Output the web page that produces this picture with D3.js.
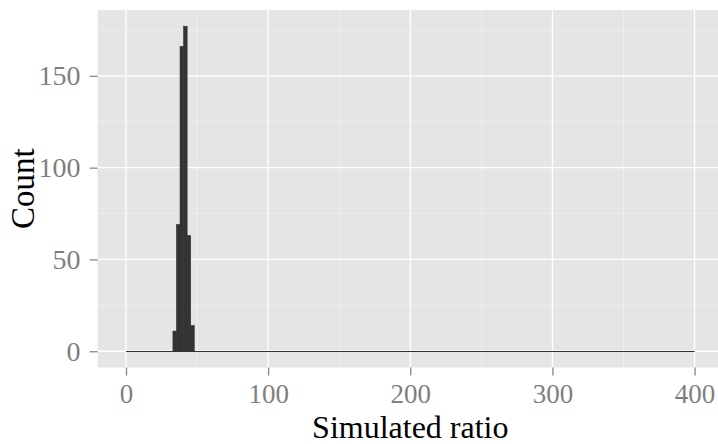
<!DOCTYPE html>
<html lang="en">
<head>
<meta charset="UTF-8">
<script src="https://d3js.org/d3.v7.min.js"></script>
<style>
  body { margin: 0; background: #fff; }
  #plot svg { display: block; }
</style>
</head>
<body>
<div id="plot"></div>
<script>
// histogram bins (edges) and counts
const binEdges = [33, 35.5, 38, 40.5, 43, 45.5, 48];
const counts = [11, 69, 166, 177, 63, 14];
// full range of the simulated values (empty bins drawn as a flat line)
const dataRange = [0, 400];
const xTicks = [0, 100, 200, 300, 400];
const xMinor = [50, 150, 250, 350];
const yTicks = [0, 50, 100, 150];
const yMinor = [25, 75, 125, 175];

function drawHist() {
  const width = 718, height = 444;
  const panel = {left: 97.6, top: 10, right: 723, bottom: 367.5};
  const font = '"Liberation Serif", "DejaVu Serif", serif';

  const x = d3.scaleLinear().domain([-20, 420]).range([panel.left, panel.right]);
  const y = d3.scaleLinear().domain([-8.85, 185.85]).range([panel.bottom, panel.top]);

  const svg = d3.select('#plot').append('svg')
      .attr('width', width)
      .attr('height', height);

  // panel background
  svg.append('rect')
      .attr('x', panel.left)
      .attr('y', panel.top)
      .attr('width', panel.right - panel.left)
      .attr('height', panel.bottom - panel.top)
      .attr('fill', '#e5e5e5');

  const grid = svg.append('g');
  // minor grid
  grid.selectAll('.xminor').data(xMinor).join('line')
      .attr('x1', d => x(d)).attr('x2', d => x(d))
      .attr('y1', panel.top).attr('y2', panel.bottom)
      .attr('stroke', '#f2f2f2').attr('stroke-width', 0.7);
  grid.selectAll('.yminor').data(yMinor).join('line')
      .attr('y1', d => y(d)).attr('y2', d => y(d))
      .attr('x1', panel.left).attr('x2', panel.right)
      .attr('stroke', '#f2f2f2').attr('stroke-width', 0.7);
  // major grid
  grid.selectAll('.xmajor').data(xTicks).join('line')
      .attr('x1', d => x(d)).attr('x2', d => x(d))
      .attr('y1', panel.top).attr('y2', panel.bottom)
      .attr('stroke', '#fff').attr('stroke-width', 1.3);
  grid.selectAll('.ymajor').data(yTicks).join('line')
      .attr('y1', d => y(d)).attr('y2', d => y(d))
      .attr('x1', panel.left).attr('x2', panel.right)
      .attr('stroke', '#fff').attr('stroke-width', 1.3);

  // empty bins along the whole range
  svg.append('line')
      .attr('x1', x(dataRange[0])).attr('x2', x(dataRange[1]))
      .attr('y1', Math.round(y(0)) + 0.5).attr('y2', Math.round(y(0)) + 0.5)
      .attr('stroke', '#333').attr('stroke-width', 1);

  // bars
  svg.append('g').selectAll('rect')
    .data(counts)
    .join('rect')
      .attr('x', (d, i) => x(binEdges[i]))
      .attr('width', (d, i) => x(binEdges[i + 1]) - x(binEdges[i]))
      .attr('y', d => y(d))
      .attr('height', d => y(0) - y(d))
      .attr('fill', '#333333')
      .attr('stroke', '#333333')
      .attr('stroke-width', 0.6);

  // x axis
  const xAxis = svg.append('g')
      .attr('transform', `translate(0, ${panel.bottom})`)
      .call(d3.axisBottom(x).tickValues(xTicks).tickSize(8).tickPadding(8).tickFormat(d3.format('d')));
  xAxis.select('.domain').remove();
  xAxis.selectAll('.tick line').attr('stroke', '#7f7f7f').attr('stroke-width', 1.2);
  xAxis.selectAll('.tick text')
      .attr('fill', '#7f7f7f')
      .attr('font-family', font)
      .attr('font-size', 27);

  // y axis
  const yAxis = svg.append('g')
      .attr('transform', `translate(${panel.left}, 0)`)
      .call(d3.axisLeft(y).tickValues(yTicks).tickSize(8).tickPadding(9).tickFormat(d3.format('d')));
  yAxis.select('.domain').remove();
  yAxis.selectAll('.tick line').attr('stroke', '#7f7f7f').attr('stroke-width', 1.2);
  yAxis.selectAll('.tick text')
      .attr('fill', '#7f7f7f')
      .attr('font-family', font)
      .attr('font-size', 28);

  // axis titles
  svg.append('text')
      .attr('x', (panel.left + panel.right) / 2)
      .attr('y', 438)
      .attr('text-anchor', 'middle')
      .attr('font-family', font)
      .attr('font-size', 32)
      .attr('fill', '#000')
      .text('Simulated ratio');

  svg.append('text')
      .attr('transform', `translate(34, ${(panel.top + panel.bottom) / 2}) rotate(-90)`)
      .attr('text-anchor', 'middle')
      .attr('font-family', font)
      .attr('font-size', 33)
      .attr('fill', '#000')
      .text('Count');
}

drawHist();
</script>
</body>
</html>
